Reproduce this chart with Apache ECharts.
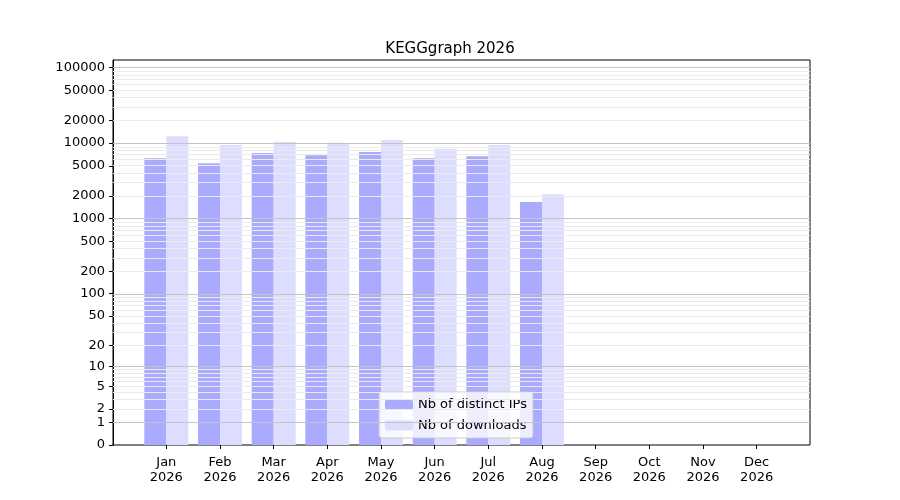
<!DOCTYPE html>
<html>
<head>
<meta charset="UTF-8">
<script src="https://cdn.jsdelivr.net/npm/echarts@6/dist/echarts.min.js"></script>
<style>body{margin:0}#main{width:900px;height:500px}</style>
</head>
<body>
<div id="main"></div>
<script>
var months = ['Jan', 'Feb', 'Mar', 'Apr', 'May', 'Jun', 'Jul', 'Aug', 'Sep', 'Oct', 'Nov', 'Dec'];
var year = '2026';
var distinctIPs = [6300, 5400, 7400, 6900, 7600, 6300, 6700, 1650, null, null, null, null];
var downloads = [12300, 9400, 10300, 10100, 11000, 8400, 9400, 2100, null, null, null, null];
var yTicks = [0, 1, 2, 5, 10, 20, 50, 100, 200, 500, 1000, 2000, 5000, 10000, 20000, 50000, 100000];

// y scale like matplotlib symlog: log10(v + 1)
function tr(v) { return v == null ? null : Math.log10(v + 1); }
function inv(t) { return Math.round(Math.pow(10, t) - 1); }

var font = 'DejaVu Sans';
var majorLines = [], minorLines = [];
for (var d = 1; d <= 100000; d *= 10) {
    majorLines.push({ yAxis: tr(d) });
    for (var k = 2; k <= 9 && d * k < 130000; k++) minorLines.push({ yAxis: tr(d * k) });
}

var myChart = echarts.init(document.getElementById('main'));
myChart.setOption({
    animation: false,
    title: { text: 'KEGGgraph ' + year, left: 'center', top: 37,
        textStyle: { fontFamily: font, fontSize: 15, fontWeight: 'normal', color: '#000' } },
    grid: [
        // frame + grid lines
        { left: 113, right: 90, top: 60, bottom: 55, show: true, borderColor: '#000', borderWidth: 1, z: 0 },
        // bars
        { left: 139.5, right: 116.5, top: 60, bottom: 55 }
    ],
    legend: {
        left: 379, top: 392, orient: 'vertical', itemWidth: 28, itemHeight: 10, itemGap: 8,
        padding: [6, 6], borderColor: '#ccc', borderWidth: 1, borderRadius: 3, backgroundColor: 'rgba(255,255,255,0.8)',
        textStyle: { fontFamily: font, fontSize: 13, color: '#000' },
        data: ['Nb of distinct IPs', 'Nb of downloads']
    },
    xAxis: [
        { gridIndex: 0, type: 'value', min: 0, max: 1, show: false },
        {
            gridIndex: 1, type: 'category', data: months,
            axisLine: { show: false },
            axisTick: { show: true, alignWithLabel: true, length: 4, lineStyle: { color: '#000' } },
            axisLabel: { fontFamily: font, fontSize: 13, color: '#000', lineHeight: 15, margin: 10,
                formatter: function (v) { return v + '\n' + year; } }
        }
    ],
    yAxis: [
        { gridIndex: 0, type: 'value', min: 0, max: 5.1, show: false },
        {
            gridIndex: 1, type: 'value', min: 0, max: 5.1, offset: 26.5,
            splitLine: { show: false },
            axisLine: { show: true, lineStyle: { color: '#000' } },
            axisTick: { show: true, length: 4, customValues: yTicks.map(tr), lineStyle: { color: '#000' } },
            axisLabel: { customValues: yTicks.map(tr), fontFamily: font, fontSize: 13, color: '#000',
                formatter: function (v) { return String(inv(v)); } }
        }
    ],
    series: [
        {
            type: 'line', xAxisIndex: 0, yAxisIndex: 0, data: [], silent: true,
            markLine: { silent: true, symbol: 'none', label: { show: false },
                lineStyle: { color: '#ebebeb', width: 1, type: 'solid' }, data: minorLines }
        },
        {
            type: 'line', xAxisIndex: 0, yAxisIndex: 0, data: [], silent: true,
            markLine: { silent: true, symbol: 'none', label: { show: false },
                lineStyle: { color: '#c4c4c4', width: 1, type: 'solid' }, data: majorLines }
        },
        {
            name: 'Nb of distinct IPs', type: 'bar', xAxisIndex: 1, yAxisIndex: 1, barWidth: 22, barGap: '0%',
            itemStyle: { color: '#aaaaff' },
            data: distinctIPs.map(tr)
        },
        {
            name: 'Nb of downloads', type: 'bar', xAxisIndex: 1, yAxisIndex: 1, barWidth: 22, barGap: '0%',
            itemStyle: { color: '#ddddff' },
            data: downloads.map(tr)
        }
    ]
});
</script>
</body>
</html>
